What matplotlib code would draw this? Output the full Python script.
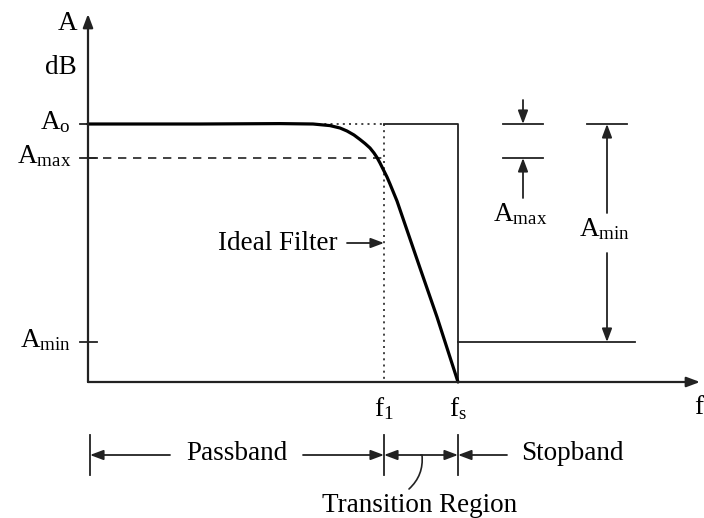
"""
Low-pass filter spec diagram: passband / transition / stopband with A_o, A_max, A_min.
Drawn in a pixel-like coordinate frame (origin top-left) so positions follow the sketch.
"""
import matplotlib
matplotlib.use("Agg")
import matplotlib.pyplot as plt

plt.rcParams["font.family"] = ["Liberation Serif", "DejaVu Serif"]
plt.rcParams["mathtext.fontset"] = "custom"
plt.rcParams["mathtext.rm"] = "Liberation Serif"
plt.rcParams["mathtext.it"] = "Liberation Serif"

# axis origin / extents
X0, Y0 = 88, 382
X_END, Y_END = 700, 14

# attenuation levels on the y axis
level_labels = [r"$\mathrm{A_o}$", r"$\mathrm{A_{max}}$", r"$\mathrm{A_{min}}$"]
level_y = [124, 158, 342]
A_O, A_MAX, A_MIN = level_y

# frequencies on the x axis
freq_labels = [r"$\mathrm{f_1}$", r"$\mathrm{f_s}$"]
freq_x = [384, 458]
F1, FS = freq_x

curve_x = [88, 200, 280, 313, 330, 340, 347, 354, 360, 365, 370, 374, 377,
           380, 383, 387, 390, 397, 420, 437, 458]
curve_y = [124, 124, 123.6, 124, 125.6, 128, 131, 135, 139.5, 143.5, 148, 153,
           157.5, 163, 169, 177, 184, 201, 268, 317, 382]

STOP_END = 635
INK = "#222222"
FS_TXT = 19.5


def arrow(ax, x0, y0, x1, y1, lw=1.3):
    ax.annotate("", xy=(x1, y1), xytext=(x0, y0),
                arrowprops=dict(arrowstyle="-|>,head_length=0.8,head_width=0.3",
                                color=INK, lw=lw, shrinkA=0, shrinkB=0))


fig = plt.figure(figsize=(7.04, 5.18), dpi=100)
ax = fig.add_axes([0, 0, 1, 1])
ax.set_xlim(0, 704)
ax.set_ylim(518, 0)
ax.axis("off")

# axes with arrow heads
arrow(ax, X0, Y0, X0, Y_END, lw=1.6)
arrow(ax, X0, Y0, X_END, Y0, lw=1.6)
ax.text(77, 23, "A", fontsize=FS_TXT, ha="right", va="center")
ax.text(77, 68, "dB", fontsize=FS_TXT, ha="right", va="center")
ax.text(694, 408, "f", fontsize=FS_TXT, ha="left", va="center")

# level ticks + labels
for lab, y in zip(level_labels, level_y):
    ax.plot([80, 97], [y, y], color=INK, lw=1.3)
    ax.text(71, y - 2, lab, fontsize=FS_TXT, ha="right", va="center")

# A_max guide
ax.plot([X0, F1], [A_MAX, A_MAX], color=INK, lw=1.2, ls=(0, (5, 4)))

# ideal filter box
ax.plot([312, F1], [A_O, A_O], color=INK, lw=1.2, ls=(0, (1.2, 2.5)))
ax.plot([F1, F1], [A_O, Y0], color=INK, lw=1.2, ls=(0, (1.2, 2.5)))
ax.plot([F1, FS, FS], [A_O, A_O, Y0], color=INK, lw=1.3)
ax.plot([FS, STOP_END], [A_MIN, A_MIN], color=INK, lw=1.3)

# real response
ax.plot(curve_x, curve_y, color="black", lw=2.3, solid_capstyle="round",
        solid_joinstyle="round")

ax.text(218, 243, "Ideal Filter", fontsize=FS_TXT, ha="left", va="center")
arrow(ax, 347, 243, F1, 243)

# frequency labels
for lab, x in zip(freq_labels, freq_x):
    ax.text(x, 409, lab, fontsize=FS_TXT, ha="center", va="center")

# A_max dimension
for y in (A_O, A_MAX):
    ax.plot([503, 543], [y, y], color=INK, lw=1.3)
arrow(ax, 523, 100, 523, A_O)
arrow(ax, 523, 198, 523, A_MAX)
ax.text(520, 214, r"$\mathrm{A_{max}}$", fontsize=FS_TXT, ha="center", va="center")

# A_min dimension
ax.plot([587, 627], [A_O, A_O], color=INK, lw=1.3)
arrow(ax, 607, 213, 607, A_O)
arrow(ax, 607, 253, 607, A_MIN)
ax.text(605, 229, r"$\mathrm{A_{min}}$", fontsize=FS_TXT, ha="center", va="center")

# band bars
BAND_Y = 455
for x in (90, F1, FS):
    ax.plot([x, x], [435, 475], color=INK, lw=1.3)
arrow(ax, 170, BAND_Y, 90, BAND_Y)
ax.text(237, BAND_Y - 2, "Passband", fontsize=FS_TXT, ha="center", va="center")
arrow(ax, 303, BAND_Y, F1, BAND_Y)
arrow(ax, 421, BAND_Y, F1, BAND_Y)
arrow(ax, 421, BAND_Y, FS, BAND_Y)
arrow(ax, 507, BAND_Y, FS, BAND_Y)
ax.text(572, BAND_Y - 2, "Stopband", fontsize=FS_TXT, ha="center", va="center")

# transition region leader
ax.annotate("", xy=(422, BAND_Y), xytext=(409, 489),
            arrowprops=dict(arrowstyle="-", color=INK, lw=1.2,
                            connectionstyle="arc3,rad=0.25", shrinkA=0, shrinkB=0))
ax.text(420, 505, "Transition Region", fontsize=FS_TXT, ha="center", va="center")

fig.savefig("out.png", dpi=100)
plt.close(fig)
